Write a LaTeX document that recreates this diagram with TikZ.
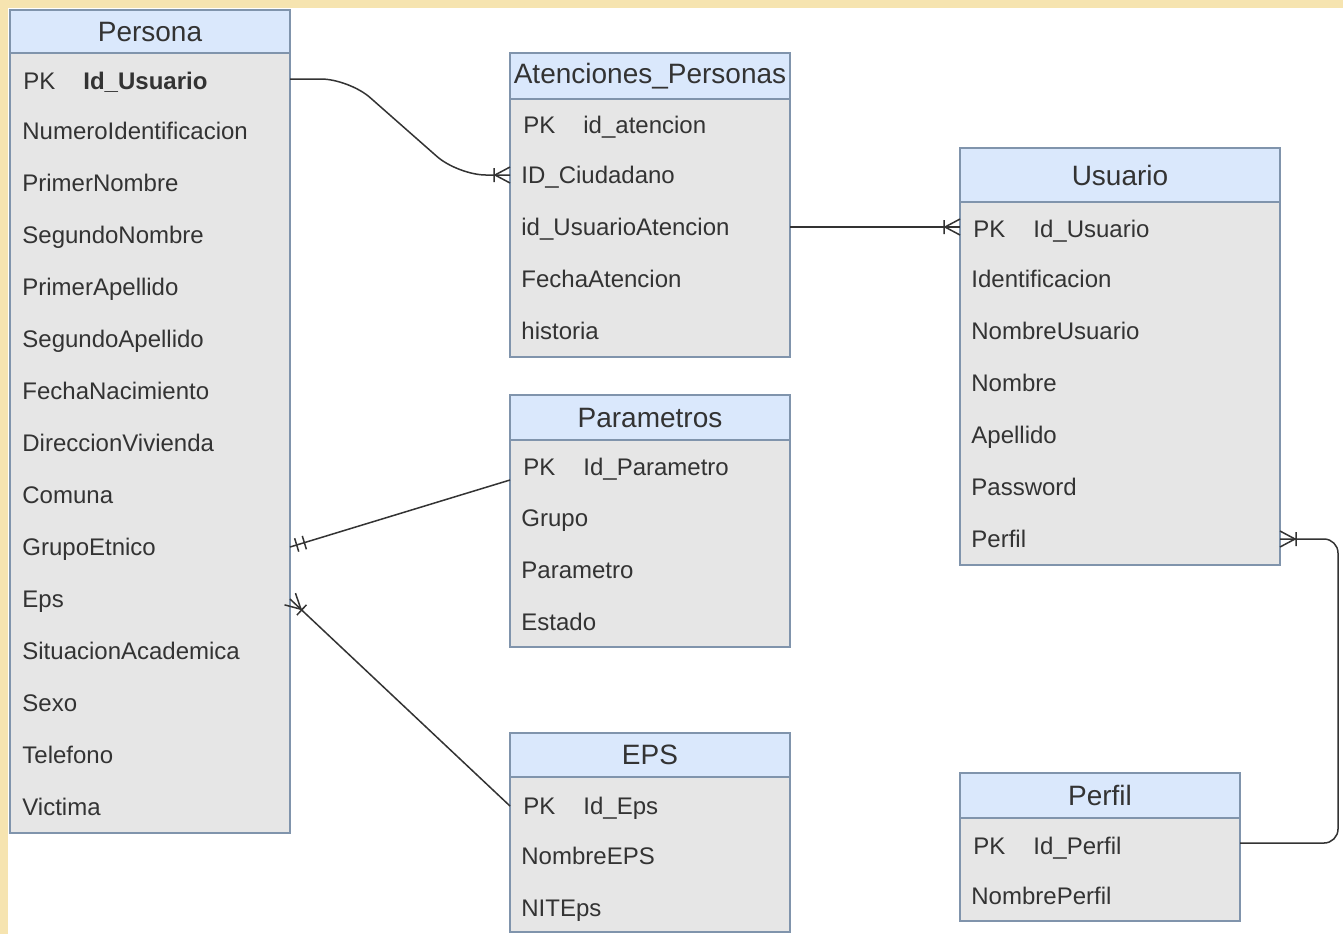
\documentclass[tikz,border=0pt]{standalone}
\usepackage{fontspec}
\setmainfont{Liberation Sans}

\definecolor{hdrblue}{RGB}{218,232,252}
\definecolor{bodygray}{RGB}{230,230,230}
\definecolor{edgeblue}{RGB}{128,148,172}
\definecolor{txtgray}{RGB}{51,51,51}
\definecolor{band}{RGB}{246,228,176}

\tikzset{
    tbl/.style={draw=edgeblue, fill=bodygray, line width=0.75pt, inner sep=0pt, outer sep=0pt, anchor=north west},
    hdr/.style={draw=edgeblue, fill=hdrblue, line width=0.75pt, inner sep=0pt, outer sep=0pt, anchor=north west, text=txtgray, font=\fontsize{14pt}{16pt}\selectfont},
    attr/.style={anchor=west, inner sep=0pt, text height=8.6pt, text depth=0.5pt, text=txtgray, font=\fontsize{12pt}{14pt}\selectfont},
    rel/.style={line width=0.75pt, black!80},
    manyone/.pic={\draw[rel] (-15,0) -- (0,8) (-15,0) -- (0,-8) (-16,-7) -- (-16,7);},
    onlyone/.pic={\draw[rel] (-7,-7) -- (-7,7) (-15,-7) -- (-15,7);}
}

\begin{document}
\begin{tikzpicture}[x=0.5pt, y=-0.5pt]
    \useasboundingbox (0,0) rectangle (1343,934);
    \fill[white] (0,0) rectangle (1343,934);
    \fill[band] (0,0) rectangle (1343,8);
    \fill[band] (0,0) rectangle (8,934);

    % Persona
    \node[tbl, minimum width=140pt, minimum height=411.5pt] (per) at (10,10) {};
    \node[hdr, minimum width=140pt, minimum height=21.5pt] (perh) at (10,10) {Persona};
    \node[attr] (per0) at (23,81) {PK};
    \node[attr, font=\fontsize{12pt}{14pt}\selectfont\bfseries] (perk) at (83,81) {Id\_Usuario};
    \foreach \t [count=\i] in {NumeroIdentificacion, PrimerNombre, SegundoNombre, PrimerApellido,
        SegundoApellido, FechaNacimiento, DireccionVivienda, Comuna, GrupoEtnico, Eps,
        SituacionAcademica, Sexo, Telefono, Victima}{
        \node[attr] (per\i) at (22,{79+52*\i}) {\t};
    }

    % Atenciones_Personas
    \node[tbl, minimum width=140pt, minimum height=152pt] (ate) at (510,53) {};
    \node[hdr, minimum width=140pt, minimum height=23pt] (ateh) at (510,53) {Atenciones\_Personas};
    \node[attr] (ate0) at (523,125) {PK};
    \node[attr] (atek) at (583,125) {id\_atencion};
    \foreach \t [count=\i] in {ID\_Ciudadano, id\_UsuarioAtencion, FechaAtencion, historia}{
        \node[attr] (ate\i) at (521,{123+52*\i}) {\t};
    }

    % Parametros
    \node[tbl, minimum width=140pt, minimum height=126pt] (par) at (510,395) {};
    \node[hdr, minimum width=140pt, minimum height=22.5pt] (parh) at (510,395) {Parametros};
    \node[attr] (par0) at (523,467) {PK};
    \node[attr] (park) at (583,467) {Id\_Parametro};
    \foreach \t [count=\i] in {Grupo, Parametro, Estado}{
        \node[attr] (par\i) at (521,{466+52*\i}) {\t};
    }

    % EPS
    \node[tbl, minimum width=140pt, minimum height=99.5pt] (eps) at (510,733) {};
    \node[hdr, minimum width=140pt, minimum height=22pt] (epsh) at (510,733) {EPS};
    \node[attr] (eps0) at (523,806) {PK};
    \node[attr] (epsk) at (583,806) {Id\_Eps};
    \foreach \t [count=\i] in {NombreEPS, NITEps}{
        \node[attr] (eps\i) at (521,{804+52*\i}) {\t};
    }

    % Usuario
    \node[tbl, minimum width=160pt, minimum height=208.5pt] (usu) at (960,148) {};
    \node[hdr, minimum width=160pt, minimum height=27pt] (usuh) at (960,148) {Usuario};
    \node[attr] (usu0) at (973,229) {PK};
    \node[attr] (usuk) at (1033,229) {Id\_Usuario};
    \foreach \t [count=\i] in {Identificacion, NombreUsuario, Nombre, Apellido, Password, Perfil}{
        \node[attr] (usu\i) at (971,{227+52*\i}) {\t};
    }

    % Perfil
    \node[tbl, minimum width=140pt, minimum height=74pt] (prf) at (960,773) {};
    \node[hdr, minimum width=140pt, minimum height=22.5pt] (prfh) at (960,773) {Perfil};
    \node[attr] (prf0) at (973,846) {PK};
    \node[attr] (prfk) at (1033,846) {Id\_Perfil};
    \node[attr] (prf1) at (971,896) {NombrePerfil};

    % relaciones
    \draw[rel, rounded corners=14pt] ([yshift=1pt]per.east |- per0) -- (349,79) -- (458,175) -- (ate.west |- ate1);
    \pic at (ate.west |- ate1) {manyone};

    \draw[rel] (ate.east |- ate2) -- (usu.west |- ate2);
    \pic at (usu.west |- ate2) {manyone};

    \draw[rel] (per.east |- per9) -- ([yshift=-6.5pt]par.west |- par0);
    \pic[rotate=197] at (per.east |- per9) {onlyone};

    \draw[rel] (per.east |- per10) -- (eps.west |- eps0);
    \pic[rotate=137] at (per.east |- per10) {manyone};

    \draw[rel, rounded corners=7pt] (usu.east |- usu6) -- (1338,539) -- (1338,843) -- ([yshift=1.5pt]prf.east |- prf0);
    \pic[rotate=180] at (usu.east |- usu6) {manyone};

\end{tikzpicture}
\end{document}
